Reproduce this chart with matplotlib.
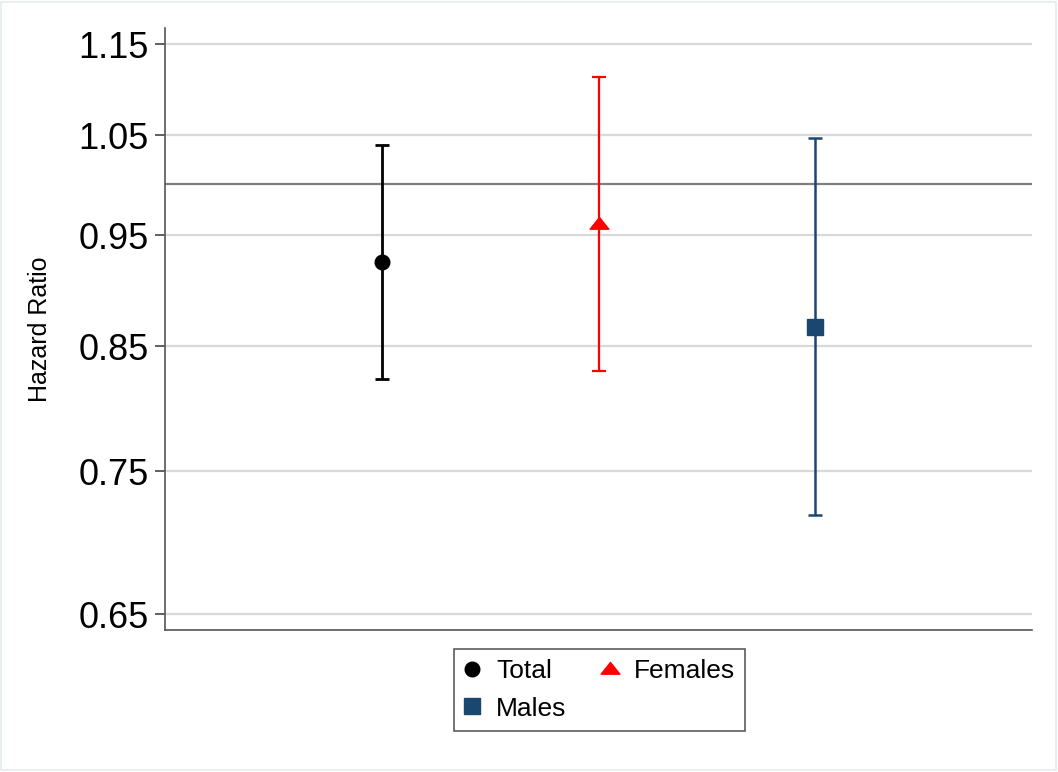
import numpy as np
import matplotlib.pyplot as plt
from matplotlib.path import Path
from matplotlib.patches import Rectangle
from matplotlib.ticker import FixedLocator, NullLocator

plt.rcParams['font.family'] = ['Liberation Sans', 'DejaVu Sans']

# hazard ratios with 95% CI
groups = ['Total', 'Females', 'Males']
hr = [0.925, 0.961, 0.867]
ci_low = [0.823, 0.829, 0.718]
ci_high = [1.040, 1.113, 1.047]
yticks = [0.65, 0.75, 0.85, 0.95, 1.05, 1.15]
ytick_labels = ['0.65', '0.75', '0.85', '0.95', '1.05', '1.15']

# stata-ish flattened triangle
tri = Path([(0, 0.75), (-1, -0.5), (1, -0.5), (0, 0.75)],
           [Path.MOVETO, Path.LINETO, Path.LINETO, Path.CLOSEPOLY])

styles = [
    dict(color='black', marker='o', ms=10.5, lw=2.0),
    dict(color='#ff0000', marker=tri, ms=13.5, lw=1.6),
    dict(color='#1a476f', marker='s', ms=11.5, lw=1.8),
]

fig = plt.figure(figsize=(10.58, 7.72), dpi=100)
ax = fig.add_axes([0.156, 0.184, 0.8195, 0.7797])

x = np.arange(1, len(groups) + 1)
handles = []
for i, (g, st) in enumerate(zip(groups, styles)):
    yerr = [[hr[i] - ci_low[i]], [ci_high[i] - hr[i]]]
    ax.errorbar([x[i]], [hr[i]], yerr=yerr, fmt='none', ecolor=st['color'],
                elinewidth=st['lw'], capsize=4.8, capthick=st['lw'], zorder=3)
    h, = ax.plot([x[i]], [hr[i]], linestyle='none', marker=st['marker'],
                 ms=st['ms'], color=st['color'], mec=st['color'], zorder=4,
                 label=g)
    handles.append(h)

ax.axhline(1.0, color='#7f7f7f', lw=1.6, zorder=2)

ax.set_yscale('log')
ax.set_ylim(0.640, 1.169)
ax.set_xlim(0, 4)
ax.yaxis.set_major_locator(FixedLocator(yticks))
ax.set_yticklabels(ytick_labels)
ax.yaxis.set_minor_locator(NullLocator())
ax.set_xticks([])
ax.grid(axis='y', color='#d9d9d9', lw=1.6, zorder=1)
ax.set_axisbelow(True)

ax.tick_params(axis='y', labelsize=26, length=7, width=1.2, color='#444444',
               pad=5, direction='out')
for s in ['top', 'right']:
    ax.spines[s].set_visible(False)
for s in ['left', 'bottom']:
    ax.spines[s].set_color('#555555')
    ax.spines[s].set_linewidth(1.2)

ax.set_ylabel('Hazard Ratio', fontsize=18)
ax.yaxis.set_label_coords(-0.1305, 0.5)

# legend fills column-wise: Total/Males in first column, Females in second
leg = fig.legend(handles=[handles[0], handles[2], handles[1]], ncol=2,
                 loc='center', bbox_to_anchor=(0.5666, 0.1062),
                 fontsize=19, frameon=True, fancybox=False,
                 handlelength=0.6, handletextpad=0.6, columnspacing=1.35,
                 borderpad=0.4, labelspacing=0.5)
leg.get_frame().set_edgecolor('#333333')
leg.get_frame().set_linewidth(1.2)

fig.patches.append(Rectangle((0.001, 0.002), 0.997, 0.996,
                             transform=fig.transFigure, fill=False,
                             edgecolor='#e4ecee', lw=1.2))

fig.savefig('out.png', dpi=100)
